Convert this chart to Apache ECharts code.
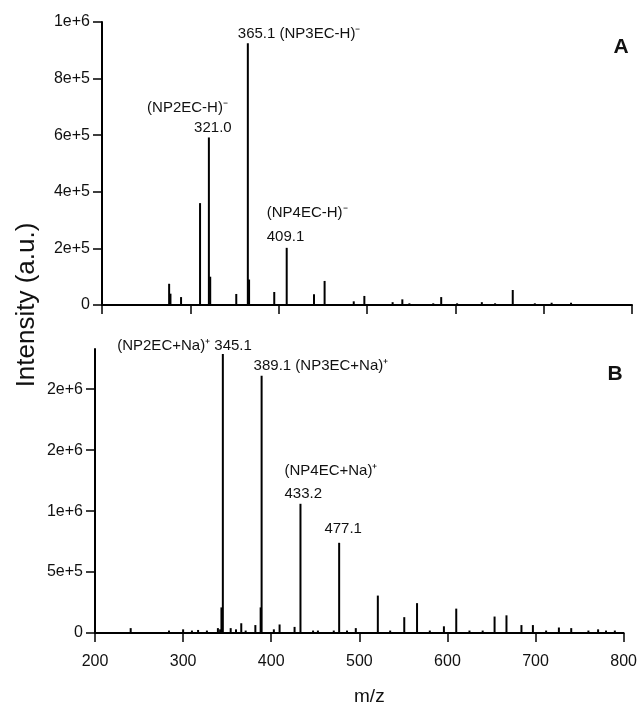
<!DOCTYPE html>
<html>
<head>
<meta charset="utf-8">
<script src="https://cdn.jsdelivr.net/npm/echarts@6/dist/echarts.min.js"></script>
<style>html,body{margin:0;padding:0;background:#fff;}#c{width:640px;height:707px;}</style>
</head>
<body>
<div id="c"></div>
<script>
// ---- Data: panel A (negative ion) ----
const mzA  = [276, 277.5, 289.5, 311, 321.0, 322.5, 352, 365.1, 366.5, 395, 409.1, 440, 452, 485, 497, 529, 540, 548, 575, 584, 602, 630, 645, 665, 690, 709, 731];
const intA = [7.5e4, 4e4, 2.8e4, 3.6e5, 5.92e5, 1.0e5, 3.9e4, 9.25e5, 9e4, 4.6e4, 2.02e5, 3.8e4, 8.5e4, 1.3e4, 3.2e4, 1e4, 2e4, 6e3, 6e3, 2.8e4, 6e3, 1e4, 6e3, 5.3e4, 6e3, 8e3, 8e3];
// ---- Data: panel B (positive ion) ----
const mzB  = [240.5, 284, 300, 310, 317, 327, 339.5, 342, 343.5, 345.1, 354, 360, 366, 371, 382, 388, 389.1, 403, 409.5, 426.5, 433.2, 447.5, 453, 471, 477.1, 486, 496, 521, 535, 551, 565.5, 580, 596, 610, 625, 640, 653.5, 667, 684, 697, 712, 726.5, 740.5, 760, 771, 780, 790];
const intB = [4e4, 2e4, 3e4, 2e4, 2.5e4, 2e4, 4e4, 3e4, 2.1e5, 2.29e6, 4e4, 3e4, 8e4, 2e4, 6.5e4, 2.1e5, 2.11e6, 3e4, 7e4, 5e4, 1.06e6, 2e4, 2e4, 2e4, 7.4e5, 2e4, 4e4, 3.07e5, 2e4, 1.3e5, 2.45e5, 2e4, 5.5e4, 2e5, 2e4, 2e4, 1.35e5, 1.45e5, 6.5e4, 6.5e4, 2e4, 4.5e4, 4e4, 2e4, 3e4, 2e4, 2e4];
// ---- Tick values ----
const xTicks  = [200, 300, 400, 500, 600, 700, 800];
const yTicksA = [0, 2e5, 4e5, 6e5, 8e5, 1e6];
const yTicksB = [0, 5e5, 1e6, 1.5e6, 2e6];
// ---- Peak annotations: [m/z, intensity, text] ----
const annA = [
  [365.1, 9.25e5, '365.1 (NP3EC-H)\u207B'],
  [321.0, 5.92e5, '(NP2EC-H)\u207B'],
  [321.0, 5.92e5, '321.0'],
  [409.1, 2.02e5, '(NP4EC-H)\u207B'],
  [409.1, 2.02e5, '409.1']
];
const annB = [
  [345.1, 2.29e6, '(NP2EC+Na)\u207A 345.1'],
  [389.1, 2.11e6, '389.1 (NP3EC+Na)\u207A'],
  [433.2, 1.06e6, '(NP4EC+Na)\u207A'],
  [433.2, 1.06e6, '433.2'],
  [477.1, 7.4e5, '477.1']
];
// label placement (offset px from peak top, alignment)
const annLayoutA = [[-10, -9, 'left'], [19, -30, 'right'], [4, -10, 'center'], [-20, -35, 'left'], [-20, -11, 'left']];
const annLayoutB = [[29, -8, 'right'], [-8, -10, 'left'], [-16, -33, 'left'], [-16, -10, 'left'], [4, -14, 'center']];

const FONT = "'Liberation Sans', Arial, sans-serif";
const fmt = v => v === 0 ? '0' : Number(v).toExponential(0);

function marks(ann, lay) {
  return ann.map((a, i) => ({
    coord: [a[0], a[1]],
    symbolSize: 0,
    label: {
      show: true, formatter: a[2], position: 'inside',
      offset: [lay[i][0], lay[i][1]], align: lay[i][2], verticalAlign: 'middle',
      color: '#111', fontSize: 15, fontFamily: FONT
    }
  }));
}

function xAx(idx, showLabel) {
  return {
    gridIndex: idx, type: 'value', min: 200, max: 800, interval: 100,
    axisLine: { show: true, lineStyle: { color: '#000', width: 2 } },
    axisTick: { show: true, length: 9, lineStyle: { color: '#000', width: 1.5 }, customValues: xTicks },
    axisLabel: { show: showLabel, color: '#111', fontSize: 16, fontFamily: FONT, margin: 21, customValues: xTicks },
    splitLine: { show: false },
    name: showLabel ? 'm/z' : '', nameLocation: 'middle', nameGap: 54,
    nameTextStyle: { color: '#111', fontSize: 19, fontFamily: FONT, padding: [0, 0, 0, 20] }
  };
}
function yAx(idx, max, ticks) {
  return {
    gridIndex: idx, type: 'value', min: 0, max: max,
    axisLine: { show: true, lineStyle: { color: '#000', width: 2 } },
    axisTick: { show: true, length: 9, lineStyle: { color: '#000', width: 1.5 }, customValues: ticks },
    axisLabel: { color: '#111', fontSize: 16, fontFamily: FONT, margin: 12, formatter: fmt, customValues: ticks },
    splitLine: { show: false }
  };
}

const chart = echarts.init(document.getElementById('c'), null, { renderer: 'canvas' });
chart.setOption({
  animation: false,
  backgroundColor: '#fff',
  grid: [
    { left: 102, right: 8, top: 22, bottom: 402 },
    { left: 95, right: 16, top: 349, bottom: 73 }
  ],
  xAxis: [xAx(0, false), xAx(1, true)],
  yAxis: [yAx(0, 1e6, yTicksA), yAx(1, 2.33e6, yTicksB)],
  series: [
    {
      type: 'bar', xAxisIndex: 0, yAxisIndex: 0, barWidth: 2,
      itemStyle: { color: '#000' },
      data: mzA.map((m, i) => [m, intA[i]]),
      markPoint: { symbol: 'circle', data: marks(annA, annLayoutA) }
    },
    {
      type: 'bar', xAxisIndex: 1, yAxisIndex: 1, barWidth: 2,
      itemStyle: { color: '#000' },
      data: mzB.map((m, i) => [m, intB[i]]),
      markPoint: { symbol: 'circle', data: marks(annB, annLayoutB) }
    }
  ],
  graphic: [
    { type: 'text', x: 27, y: 305, rotation: Math.PI / 2,
      style: { text: 'Intensity (a.u.)', fontSize: 26, fontFamily: FONT, fill: '#111', textAlign: 'center', textVerticalAlign: 'middle' } },
    { type: 'text', x: 621, y: 47,
      style: { text: 'A', fontSize: 21, fontWeight: 'bold', fontFamily: FONT, fill: '#111', textAlign: 'center', textVerticalAlign: 'middle' } },
    { type: 'text', x: 615, y: 374,
      style: { text: 'B', fontSize: 21, fontWeight: 'bold', fontFamily: FONT, fill: '#111', textAlign: 'center', textVerticalAlign: 'middle' } }
  ]
});
</script>
</body>
</html>
